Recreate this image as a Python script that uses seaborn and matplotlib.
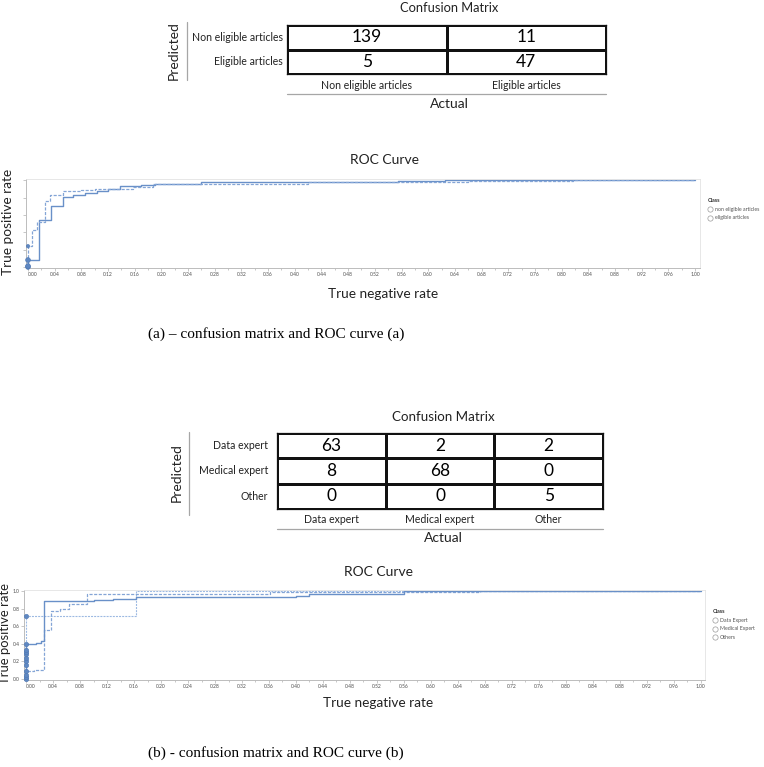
import numpy as np
import pandas as pd
import matplotlib
matplotlib.use("Agg")
import matplotlib.pyplot as plt
from matplotlib.colors import ListedColormap
from matplotlib.lines import Line2D
import seaborn as sns

sns.set_theme(style="white")
plt.rcParams['font.family'] = ['Lato', 'DejaVu Sans']

# ---------------- data ----------------
cm_a_rows = ["Non eligible articles", "Eligible articles"]
cm_a_cols = ["Non eligible articles", "Eligible articles"]
cm_a_values = [[139, 11], [5, 47]]

cm_b_rows = ["Data expert", "Medical expert", "Other"]
cm_b_cols = ["Data expert", "Medical expert", "Other"]
cm_b_values = [[63, 2, 2], [8, 68, 0], [0, 0, 5]]

roc_ticks = [round(0.04 * i, 2) for i in range(26)]
roc_minor_ticks = [round(0.02 * i, 2) for i in range(51)]
roc_y_ticks = [0.0, 0.2, 0.4, 0.6, 0.8, 1.0]

roc_a_labels = ["non eligible articles", "eligible articles"]
roc_a_non_x = [0, 0, 0.016, 0.034, 0.052, 0.068, 0.085, 0.103, 0.12, 0.138, 0.17, 0.19, 0.26, 0.45, 0.555, 0.625, 1.0]
roc_a_non_y = [0, 0.08, 0.54, 0.70, 0.81, 0.83, 0.85, 0.88, 0.90, 0.93, 0.95, 0.96, 0.975, 0.98, 0.99, 1.0, 1.0]
roc_a_eli_x = [0, 0, 0.006, 0.013, 0.025, 0.033, 0.053, 0.08, 0.10, 0.157, 0.187, 0.42, 0.66, 0.817, 1.0]
roc_a_eli_y = [0, 0.24, 0.43, 0.52, 0.76, 0.83, 0.875, 0.89, 0.90, 0.92, 0.96, 0.975, 0.99, 1.0, 1.0]
roc_a_pts_x = [0, 0, 0, 0]
roc_a_pts_y = [0.0, 0.01, 0.08, 0.24]

roc_b_labels = ["Data Expert", "Medical Expert", "Others"]
roc_b_data_x = [0, 0, 0.015, 0.022, 0.027, 0.086, 0.10, 0.129, 0.163, 0.24, 0.40, 0.42, 0.56, 1.0]
roc_b_data_y = [0, 0.40, 0.41, 0.43, 0.89, 0.895, 0.90, 0.91, 0.93, 0.94, 0.95, 0.97, 1.0, 1.0]
roc_b_med_x = [0, 0, 0.012, 0.027, 0.027, 0.037, 0.05, 0.064, 0.09, 0.362, 0.673, 1.0]
roc_b_med_y = [0, 0.09, 0.10, 0.15, 0.56, 0.77, 0.80, 0.86, 0.97, 0.99, 1.0, 1.0]
roc_b_oth_x = [0, 0, 0.163, 1.0]
roc_b_oth_y = [0, 0.72, 1.0, 1.0]
roc_b_pts_x = [0] * 12
roc_b_pts_y = [0.0, 0.02, 0.05, 0.09, 0.16, 0.20, 0.24, 0.28, 0.31, 0.33, 0.40, 0.72]

# ---------------- layout helpers ----------------
W, H = 764, 767
fig = plt.figure(figsize=(W / 100, H / 100), dpi=100)
fig.patch.set_facecolor("white")


def fx(px):
    return px / W


def fy(py):
    return 1 - py / H


def add_ax(x0, y0, x1, y1):
    return fig.add_axes([fx(x0), fy(y1), (x1 - x0) / W, (y1 - y0) / H])


def hline(x0, x1, y, color="#a6a6a6", lw=0.9):
    fig.add_artist(Line2D([fx(x0), fx(x1)], [fy(y), fy(y)], transform=fig.transFigure, color=color, lw=lw))


def vline(x, y0, y1, color="#a6a6a6", lw=0.9):
    fig.add_artist(Line2D([fx(x), fx(x)], [fy(y0), fy(y1)], transform=fig.transFigure, color=color, lw=lw))


white_cmap = ListedColormap(["white"])


def conf_matrix(box, values, rows, cols, ypad, xpad):
    ax = add_ax(*box)
    df = pd.DataFrame(values, index=rows, columns=cols)
    sns.heatmap(df, ax=ax, annot=True, fmt="d", cmap=white_cmap, cbar=False,
                linewidths=0.75, linecolor="#111111",
                annot_kws={"fontsize": 12.5, "color": "black"})
    for s in ax.spines.values():
        s.set_visible(True)
        s.set_color("#111111")
        s.set_linewidth(0.9)
    ax.set_yticklabels(rows, rotation=0, fontsize=7.6, color="#222222")
    ax.set_xticklabels(cols, rotation=0, fontsize=7.6, color="#222222")
    ax.tick_params(axis="y", length=0, pad=ypad)
    ax.tick_params(axis="x", length=0, pad=xpad)
    ax.set_xlabel("")
    ax.set_ylabel("")
    return ax


LINE = "#6990c8"
DASH = "#84a5d6"
LIGHT = "#9cb9e2"
PT = "#5f88c2"


def roc_axes(box, xmin, xmax, ylab_show):
    ax = add_ax(*box)
    ax.set_xlim(xmin, xmax)
    ax.set_ylim(-0.012, 1.015)
    ax.set_xticks(roc_ticks)
    ax.set_xticks(roc_minor_ticks, minor=True)
    ax.set_xticklabels([f"{t:.2f}" for t in roc_ticks], fontsize=3.6, color="#505050")
    ax.get_xticklabels()[0].set_horizontalalignment("left")
    ax.set_yticks(roc_y_ticks)
    if ylab_show:
        ax.set_yticklabels([f"{t:.1f}" for t in roc_y_ticks], fontsize=3.6, color="#505050")
    else:
        ax.set_yticklabels([])
    ax.tick_params(axis="both", which="both", direction="out", length=2, width=0.5,
                   color="#b0b0b0", pad=1.2)
    ax.tick_params(axis="both", which="major", bottom=True, left=True)
    ax.tick_params(axis="x", which="minor", bottom=True, length=1.5)
    for side in ["top", "right"]:
        ax.spines[side].set_color("#e3e3e3")
        ax.spines[side].set_linewidth(0.6)
    for side in ["left", "bottom"]:
        ax.spines[side].set_color("#bcbcbc")
        ax.spines[side].set_linewidth(0.7)
    ax.set_xlabel("")
    ax.set_ylabel("")
    return ax


def curve(ax, x, y, color, ls, lw):
    sns.lineplot(x=x, y=y, ax=ax, sort=False, estimator=None, color=color,
                 linestyle=ls, linewidth=lw, drawstyle="steps-post")


def add_legend(ax, labels, x, y):
    handles = []
    for i, lab in enumerate(labels):
        handles.append(Line2D([], [], marker="o", linestyle="none", markersize=3.8,
                              markerfacecolor="white", markeredgecolor="#9a9a9a",
                              markeredgewidth=0.5, label=lab))
    leg = ax.legend(handles=handles, loc="upper left", bbox_to_anchor=(fx(x), fy(y)),
                    bbox_transform=fig.transFigure, frameon=False, fontsize=3.8,
                    title="Class", title_fontproperties={"size": 4.0, "weight": "bold"},
                    handlelength=0.9, handletextpad=0.4, labelspacing=0.7,
                    borderpad=0, borderaxespad=0, alignment="left")
    for t in leg.get_texts():
        t.set_color("#555555")
    leg.get_title().set_color("#333333")


# ---------------- (a) confusion matrix ----------------
fig.text(fx(449), fy(8), "Confusion Matrix", ha="center", va="center", fontsize=9.3, color="#222222")
conf_matrix((287, 25, 606, 74), cm_a_values, cm_a_rows, cm_a_cols, ypad=3, xpad=4)
fig.text(fx(174), fy(51), "Predicted", rotation=90, ha="center", va="center", fontsize=10, color="#222222")
vline(187, 22, 80)
hline(287, 606, 94)
fig.text(fx(449), fy(104), "Actual", ha="center", va="center", fontsize=10, color="#222222")

# ---------------- (a) ROC ----------------
fig.text(fx(384), fy(160), "ROC Curve", ha="center", va="center", fontsize=10, color="#222222")
ax_a = roc_axes((26, 179, 700, 268), -0.003, 1.0075, False)
curve(ax_a, roc_a_non_x, roc_a_non_y, LINE, "-", 1.0)
curve(ax_a, roc_a_eli_x, roc_a_eli_y, DASH, (0, (2.5, 1.2)), 0.9)
sns.scatterplot(x=roc_a_pts_x, y=roc_a_pts_y, ax=ax_a, color=PT, s=[12, 12, 12, 6],
                edgecolor="#4f78b3", linewidth=0.4, clip_on=False, zorder=5, legend=False)
add_legend(ax_a, roc_a_labels, 708, 198)
fig.text(fx(8), fy(222), "True positive rate", rotation=90, ha="center", va="center", fontsize=9.8, color="#222222")
fig.text(fx(383), fy(294), "True negative rate", ha="center", va="center", fontsize=9.8, color="#222222")

fig.text(fx(148), fy(334), "(a) \u2013 confusion matrix and ROC curve (a)", ha="left", va="center",
         fontsize=11, family="Liberation Serif", color="black")

# ---------------- (b) confusion matrix ----------------
fig.text(fx(443), fy(417), "Confusion Matrix", ha="center", va="center", fontsize=9.6, color="#222222")
conf_matrix((277, 433, 603, 509), cm_b_values, cm_b_rows, cm_b_cols, ypad=6.5, xpad=3.6)
fig.text(fx(177), fy(473), "Predicted", rotation=90, ha="center", va="center", fontsize=10, color="#222222")
vline(189, 432, 515)
hline(277, 603, 529)
fig.text(fx(443), fy(538), "Actual", ha="center", va="center", fontsize=10, color="#222222")

# ---------------- (b) ROC ----------------
fig.text(fx(378), fy(572), "ROC Curve", ha="center", va="center", fontsize=10, color="#222222")
ax_b = roc_axes((24, 590, 705, 680), -0.003, 1.006, True)
curve(ax_b, roc_b_oth_x, roc_b_oth_y, LIGHT, (0, (1.8, 1.0)), 0.8)
curve(ax_b, roc_b_med_x, roc_b_med_y, DASH, (0, (2.5, 1.2)), 0.9)
curve(ax_b, roc_b_data_x, roc_b_data_y, LINE, "-", 1.0)
sns.scatterplot(x=roc_b_pts_x, y=roc_b_pts_y, ax=ax_b, color=PT, s=10,
                edgecolor="#4f78b3", linewidth=0.4, clip_on=False, zorder=5, legend=False)
add_legend(ax_b, roc_b_labels, 713, 609)
fig.text(fx(5), fy(634), "True positive rate", rotation=90, ha="center", va="center", fontsize=9.4, color="#222222")
fig.text(fx(378), fy(703), "True negative rate", ha="center", va="center", fontsize=9.8, color="#222222")

fig.text(fx(148), fy(753), "(b) - confusion matrix and ROC curve (b)", ha="left", va="center",
         fontsize=11, family="Liberation Serif", color="black")

fig.savefig("out.png", dpi=100, facecolor="white")
